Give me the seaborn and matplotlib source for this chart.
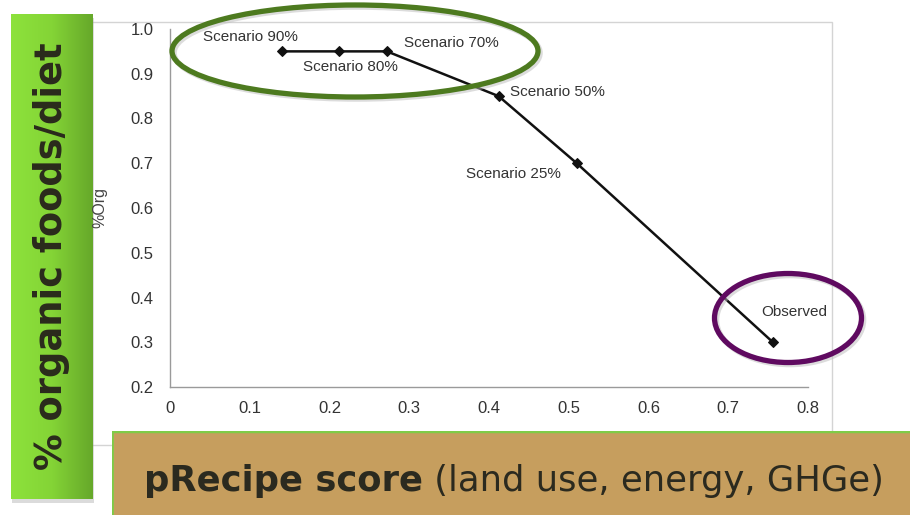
import numpy as np
import matplotlib
matplotlib.use("Agg")
import matplotlib.pyplot as plt
import seaborn as sns
import pandas as pd
from matplotlib.patches import Rectangle, Ellipse
from matplotlib.colors import LinearSegmentedColormap

# ---- data ----
labels = ["Scenario 90%", "Scenario 80%", "Scenario 70%", "Scenario 50%", "Scenario 25%", "Observed"]
precipe = [0.14, 0.212, 0.272, 0.412, 0.510, 0.756]
org = [0.95, 0.95, 0.95, 0.85, 0.70, 0.30]
xticks = [0, 0.1, 0.2, 0.3, 0.4, 0.5, 0.6, 0.7, 0.8]
xtick_labels = ["0", "0.1", "0.2", "0.3", "0.4", "0.5", "0.6", "0.7", "0.8"]
yticks = [0.2, 0.3, 0.4, 0.5, 0.6, 0.7, 0.8, 0.9, 1.0]
ytick_labels = ["0.2", "0.3", "0.4", "0.5", "0.6", "0.7", "0.8", "0.9", "1.0"]
# label offsets in pixels (dx, dy) from each point
label_off = [(-79, 14), (-36, -16), (17, 8), (11, 4), (-111, -11), (-12, 30)]

df = pd.DataFrame({"pReCiP": precipe, "%Org": org, "label": labels})

W, H = 910, 515
sns.set_theme(style="white")
plt.rcParams['font.family'] = ['Liberation Sans', 'DejaVu Sans']
fig = plt.figure(figsize=(W / 100, H / 100), dpi=100)
fig.patch.set_facecolor("white")

def fx(px):
    return px / W

def fy(py):
    return 1 - py / H

# chart image frame
fig.patches.append(Rectangle((fx(86), fy(457)), fx(832) - fx(86), fy(22) - fy(457),
                             transform=fig.transFigure, facecolor="white", edgecolor="none", zorder=0))
fig.patches.append(Rectangle((fx(89), fy(445)), fx(832) - fx(89), fy(22) - fy(445),
                             transform=fig.transFigure, facecolor="white", edgecolor="#d4d4d4",
                             lw=1.0, zorder=0.5))

ax = fig.add_axes([fx(170), fy(387), fx(808) - fx(170), fy(29) - fy(387)], zorder=2)
ax.set_facecolor("none")
sns.lineplot(data=df, x="pReCiP", y="%Org", sort=False, ax=ax, color="#111111",
             lw=1.8, marker="D", markersize=5, markeredgecolor="#111111")
ax.set_xlim(0, 0.8)
ax.set_ylim(0.2, 1.0)
ax.set_xticks(xticks)
ax.set_xticklabels(xtick_labels)
ax.set_yticks(yticks)
ax.set_yticklabels(ytick_labels)
for s in ["top", "right"]:
    ax.spines[s].set_visible(False)
for s in ["left", "bottom"]:
    ax.spines[s].set_color("#9a9a9a")
    ax.spines[s].set_linewidth(1.0)
ax.tick_params(axis="x", direction="in", length=5, width=1, color="#9a9a9a",
               labelsize=12, labelcolor="#333333", pad=10)
ax.tick_params(axis="y", direction="out", length=6, width=1, color="#9a9a9a",
               labelsize=12, labelcolor="#333333", pad=6)
ax.set_xlabel("")
ax.set_ylabel("")
fig.text(fx(100), fy(208), "%Org", rotation=90, ha="center", va="center",
         fontsize=11.5, color="#444444", zorder=10)

for lab, xv, yv, (dx, dy) in zip(labels, precipe, org, label_off):
    ax.annotate(lab, (xv, yv), xytext=(dx * 0.72, dy * 0.72), textcoords="offset points",
                ha="left", va="center", fontsize=11, color="#333333")

# ellipses
fig.patches.append(Ellipse((fx(357), fy(53)), fx(366), 92 / H, transform=fig.transFigure,
                           fill=False, edgecolor="#bbbbbb", lw=4, alpha=0.5, zorder=5))
fig.patches.append(Ellipse((fx(355), fy(51)), fx(366), 92 / H, transform=fig.transFigure,
                           fill=False, edgecolor="#4d7a1f", lw=3.8, zorder=6))
fig.patches.append(Ellipse((fx(790), fy(320)), fx(147), 89 / H, transform=fig.transFigure,
                           fill=False, edgecolor="#bbbbbb", lw=4, alpha=0.5, zorder=5))
fig.patches.append(Ellipse((fx(788), fy(318)), fx(147), 89 / H, transform=fig.transFigure,
                           fill=False, edgecolor="#5f0a60", lw=3.8, zorder=6))

# green vertical box with gradient
fig.patches.append(Rectangle((fx(12), fy(503)), fx(82), (499 - 14) / H, transform=fig.transFigure,
                             facecolor="#999999", edgecolor="none", alpha=0.35, zorder=7))
gax = fig.add_axes([fx(11), fy(499), fx(82), (499 - 14) / H], zorder=8)
cmap = LinearSegmentedColormap.from_list("g", ["#8de23c", "#84d436", "#66a82a"])
gax.imshow(np.linspace(0, 1, 100)[None, :], aspect="auto", cmap=cmap, extent=[0, 1, 0, 1])
gax.set_axis_off()
gax.text(0.5, 0.5, "% organic foods/diet", rotation=90, ha="center", va="center",
         fontsize=26.5, fontweight="bold", color="#2a2a1c", family="DejaVu Sans",
         transform=gax.transAxes)

# tan box at bottom
tax = fig.add_axes([fx(112), 0, 1 - fx(112), (515 - 431) / H], zorder=9)
tax.set_xlim(0, 1)
tax.set_ylim(0, 1)
tax.add_patch(Rectangle((0, 0), 1, 1, facecolor="#c69e5e", edgecolor="none"))
tax.axhline(1, color="#7fcb48", lw=2.5)
tax.axvline(0, color="#7fcb48", lw=2)
tax.set_axis_off()
t1 = tax.text(0.04, 0.40, "pRecipe score", ha="left", va="center", fontsize=25.5,
              fontweight="bold", color="#2b2a1f", family="DejaVu Sans")
fig.canvas.draw()
bb = t1.get_window_extent()
x_end = tax.transAxes.inverted().transform((bb.x1, bb.y0))[0]
tax.text(x_end, 0.40, " (land use, energy, GHGe)", ha="left", va="center", fontsize=25.5,
         color="#2b2a1f", family="DejaVu Sans")

fig.savefig("out.png", dpi=100)
